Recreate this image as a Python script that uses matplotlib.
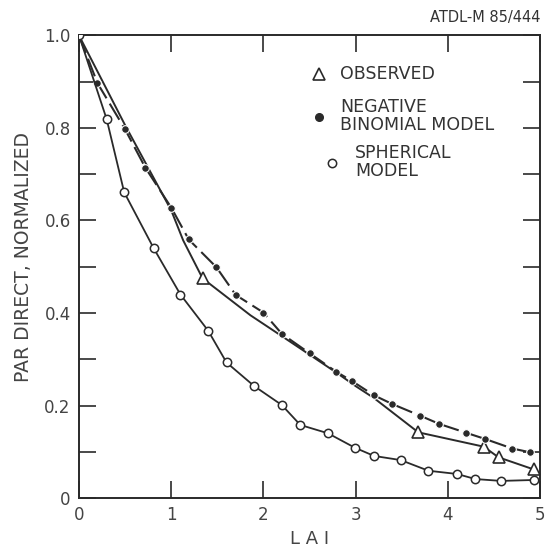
import numpy as np
import matplotlib
matplotlib.use("Agg")
import matplotlib.pyplot as plt

# negative binomial model (filled dots, dashed line)
nb_x = [0, 0.2, 0.5, 0.72, 1.0, 1.19, 1.49, 1.70, 2.0, 2.2, 2.5, 2.79, 2.96, 3.2, 3.4, 3.7, 3.91, 4.2, 4.4, 4.7, 4.89]
nb_y = [1.0, 0.897, 0.797, 0.714, 0.628, 0.559, 0.499, 0.439, 0.401, 0.355, 0.313, 0.273, 0.253, 0.222, 0.203, 0.178, 0.160, 0.141, 0.128, 0.107, 0.099]

# spherical model (open circles)
sp_x = [0, 0.30, 0.49, 0.81, 1.10, 1.40, 1.60, 1.90, 2.2, 2.4, 2.7, 2.99, 3.2, 3.49, 3.79, 4.10, 4.30, 4.58, 4.93]
sp_y = [1.0, 0.819, 0.661, 0.540, 0.440, 0.362, 0.293, 0.242, 0.201, 0.158, 0.140, 0.109, 0.091, 0.082, 0.059, 0.052, 0.041, 0.037, 0.039]

# observed curve, triangles only at measured points
obs_x = [0, 0.5, 1.0, 1.13, 1.34, 1.86, 2.2, 2.5, 2.8, 3.0, 3.2, 3.68, 4.39, 4.55, 4.93]
obs_y = [1.0, 0.806, 0.622, 0.557, 0.475, 0.395, 0.350, 0.310, 0.270, 0.242, 0.216, 0.142, 0.111, 0.088, 0.062]
obs_marked = [4, 11, 12, 13, 14]

col = "#2a2a2a"
plt.rcParams["font.family"] = ["DejaVu Sans"]

fig = plt.figure(figsize=(5.46, 5.5), dpi=100)
ax = fig.add_axes([0.1447, 0.0945, 0.8443, 0.8410])

ax.plot(obs_x, obs_y, color=col, lw=1.4, marker="^", markevery=obs_marked,
        ms=8.5, mfc="white", mec=col, mew=1.2, zorder=2)
ax.plot(nb_x, nb_y, color=col, lw=1.5, dashes=(9, 3), marker="o", ms=5.5,
        mfc=col, mec="white", mew=0.8, zorder=3)
ax.plot(sp_x, sp_y, color=col, lw=1.3, marker="o", ms=6,
        mfc="white", mec=col, mew=1.1, zorder=3)

ax.set_xlim(0, 5)
ax.set_ylim(0, 1.0)
ax.set_xticks([0, 1, 2, 3, 4, 5])
ax.set_xticklabels(["0", "1", "2", "3", "4", "5"])
ax.set_yticks([0, 0.2, 0.4, 0.6, 0.8, 1.0])
ax.set_yticklabels(["0", "0.2", "0.4", "0.6", "0.8", "1.0"])
ax.set_yticks(np.arange(0.1, 1.0, 0.2), minor=True)
ax.tick_params(which="both", direction="in", length=12, width=1.2, color=col,
               top=True, right=True, labelsize=12, labelcolor="#444444", pad=6)

for s in ax.spines.values():
    s.set_color(col)
    s.set_linewidth(1.4)

ax.set_xlabel("L A I", fontsize=13, color="#444444", labelpad=4)
ax.set_ylabel("PAR DIRECT, NORMALIZED", fontsize=13.5, color="#444444")
ax.yaxis.set_label_coords(-0.10, 0.52)

# hand-placed key as in the original figure
def px(x, y):
    return (x - 79) / 461.0, (498 - y) / 462.5

tk = dict(fontsize=12.5, color="#333333", transform=ax.transAxes, va="center", ha="left",
          linespacing=1.05)
ax.plot(*px(319, 74), marker="^", ms=8.5, mfc="white", mec=col, mew=1.2,
        transform=ax.transAxes, clip_on=False)
ax.text(*px(340, 74), "OBSERVED", **tk)
ax.plot(*px(319, 117), marker="o", ms=5.5, mfc=col, mec=col,
        transform=ax.transAxes, clip_on=False)
ax.text(*px(340, 116), "NEGATIVE\nBINOMIAL MODEL", **tk)
ax.plot(*px(332, 163), marker="o", ms=6, mfc="white", mec=col, mew=1.1,
        transform=ax.transAxes, clip_on=False)
ax.text(*px(355, 162), "SPHERICAL\nMODEL", **tk)

fig.text(0.99, 0.968, "ATDL-M 85/444", fontsize=10.5, color="#333333", ha="right", va="center")

fig.savefig("out.png", dpi=100)
